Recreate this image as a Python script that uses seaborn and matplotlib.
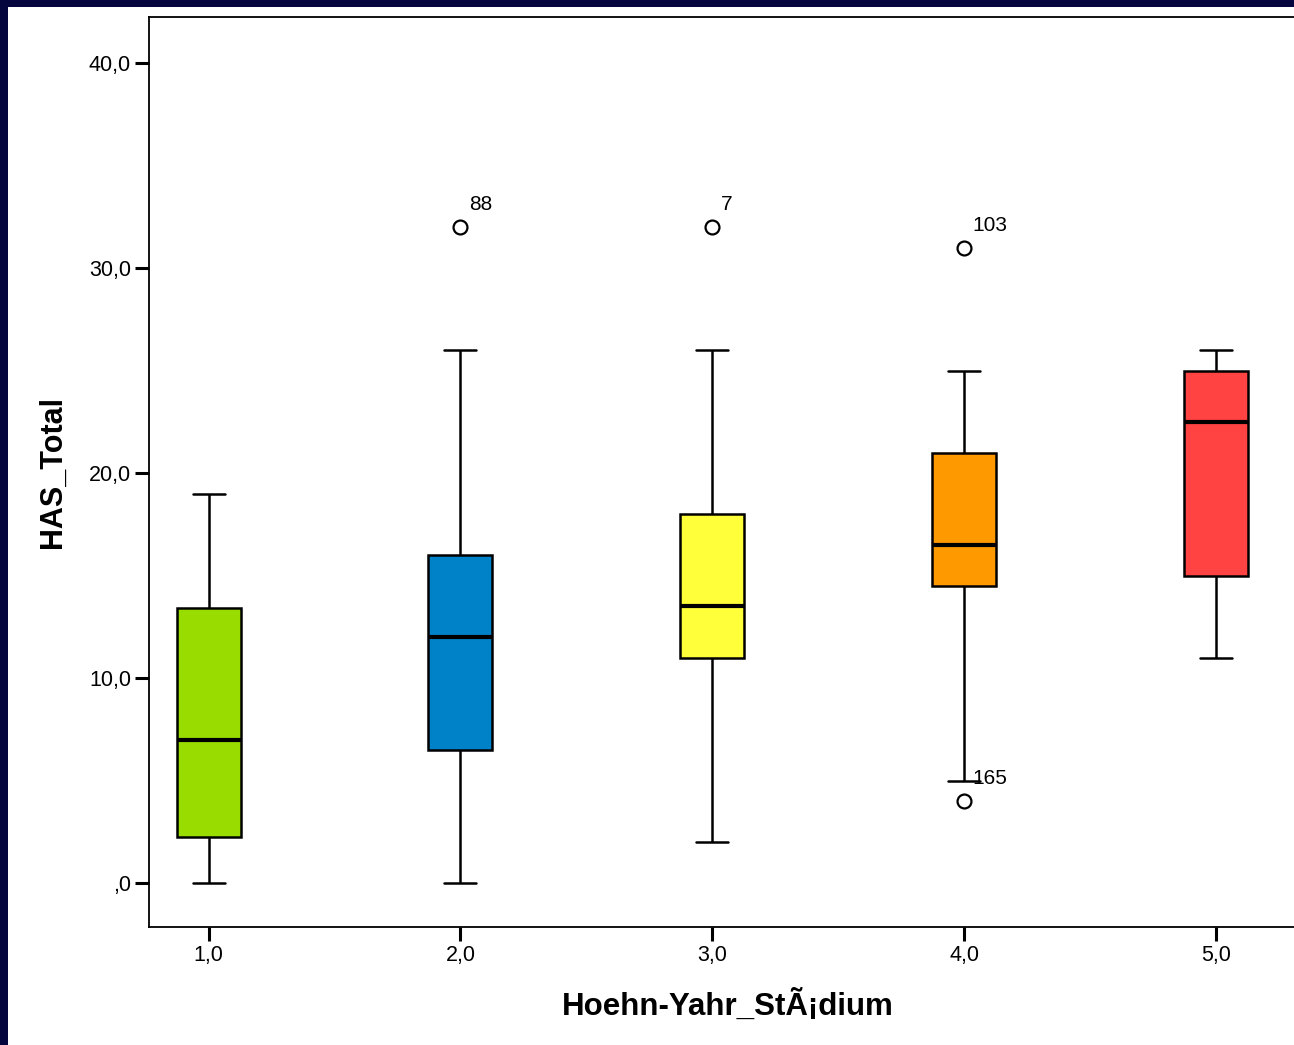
import matplotlib
matplotlib.use("Agg")
import matplotlib.pyplot as plt
import seaborn as sns
import pandas as pd
from matplotlib.patches import Rectangle

# ---- data (values chosen so that quartiles / whiskers / outliers match the picture) ----
stage_labels = ["1,0", "2,0", "3,0", "4,0", "5,0"]
stage1 = [0.0, 2.25, 7.0, 13.4, 19.0]
stage2 = [0.0, 3.0, 6.5, 9.0, 12.0, 14.0, 16.0, 26.0, 32.0]
stage3 = [2.0, 7.0, 11.0, 12.0, 13.5, 16.0, 18.0, 26.0, 32.0]
stage4 = [4.0, 5.0, 14.5, 15.5, 16.5, 19.0, 21.0, 25.0, 31.0]
stage5 = [11.0, 15.0, 22.5, 25.0, 26.0]
box_colors = ["#99dd00", "#0082c8", "#ffff3a", "#ff9900", "#ff4242"]

# outlier case-number labels: (stage label, value, text)
outlier_labels = [("2,0", 32.0, "88"), ("3,0", 32.0, "7"),
                  ("4,0", 31.0, "103"), ("4,0", 4.0, "165")]

y_ticks = [0, 10, 20, 30, 40]
y_tick_labels = [",0", "10,0", "20,0", "30,0", "40,0"]

rows = []
for lab, vals in zip(stage_labels, [stage1, stage2, stage3, stage4, stage5]):
    for v in vals:
        rows.append({"stage": lab, "HAS_Total": v})
df = pd.DataFrame(rows)

sns.set_theme(style="white")
plt.rcParams["font.family"] = ["Liberation Sans", "DejaVu Sans"]

W, H = 1294, 1045
fig = plt.figure(figsize=(W / 100, H / 100), dpi=100)
fig.patch.set_facecolor("white")
navy = "#06063e"
# navy frame (left and top strips)
fig.add_artist(Rectangle((0, 0), 8 / W, 1, transform=fig.transFigure,
                         facecolor=navy, edgecolor="none", zorder=5))
fig.add_artist(Rectangle((0, 1 - 7 / H), 1, 7 / H, transform=fig.transFigure,
                         facecolor=navy, edgecolor="none", zorder=5))

ax = fig.add_axes([149 / W, 1 - 927 / H, 1.01 - 149 / W, (927 - 17) / H])
ax.set_facecolor("white")

sns.boxplot(
    data=df, x="stage", y="HAS_Total", hue="stage", order=stage_labels,
    hue_order=stage_labels, palette=box_colors, legend=False, ax=ax,
    width=0.254, whis=1.5, saturation=1,
    linecolor="black", linewidth=1.8,
    medianprops=dict(color="black", linewidth=3),
    flierprops=dict(marker="o", markerfacecolor="white", markeredgecolor="black",
                    markersize=10, markeredgewidth=1.6),
)

pos = {lab: i for i, lab in enumerate(stage_labels)}
for lab, val, txt in outlier_labels:
    ax.annotate(txt, (pos[lab], val), xytext=(6, 9), textcoords="offset points",
                fontsize=15, color="black", ha="left", va="bottom")

# x: categorical positions fitted to the reference pixel layout
x0 = 208.6
step = 251.8
left_px = 149
right_px = 149 + (1.01 - 149 / W) * W
ax.set_xlim((left_px - x0) / step, (right_px - x0) / step)
y_px_per = 20.5
ax.set_ylim(-(927 - 883) / y_px_per, 40 + (63 - 17) / y_px_per)

ax.set_yticks(y_ticks)
ax.set_yticklabels(y_tick_labels)
ax.set_xticks(range(len(stage_labels)))
ax.set_xticklabels(stage_labels)

ax.tick_params(axis="both", which="major", direction="out", length=10, width=2.2,
               color="black", labelsize=15.5, labelcolor="black", pad=3,
               left=True, bottom=True)
ax.tick_params(axis="x", pad=3)

for side in ["left", "bottom", "top"]:
    ax.spines[side].set_visible(True)
    ax.spines[side].set_color("black")
    ax.spines[side].set_linewidth(1.3)
ax.spines["right"].set_visible(False)

ax.set_xlabel("Hoehn-Yahr_StÃ¡dium", fontsize=22.5, fontweight="bold", color="black",
              labelpad=17)
ax.set_ylabel("HAS_Total", fontsize=22, fontweight="bold", color="black",
              labelpad=15)

fig.savefig("out.png", dpi=100, facecolor=fig.get_facecolor())
